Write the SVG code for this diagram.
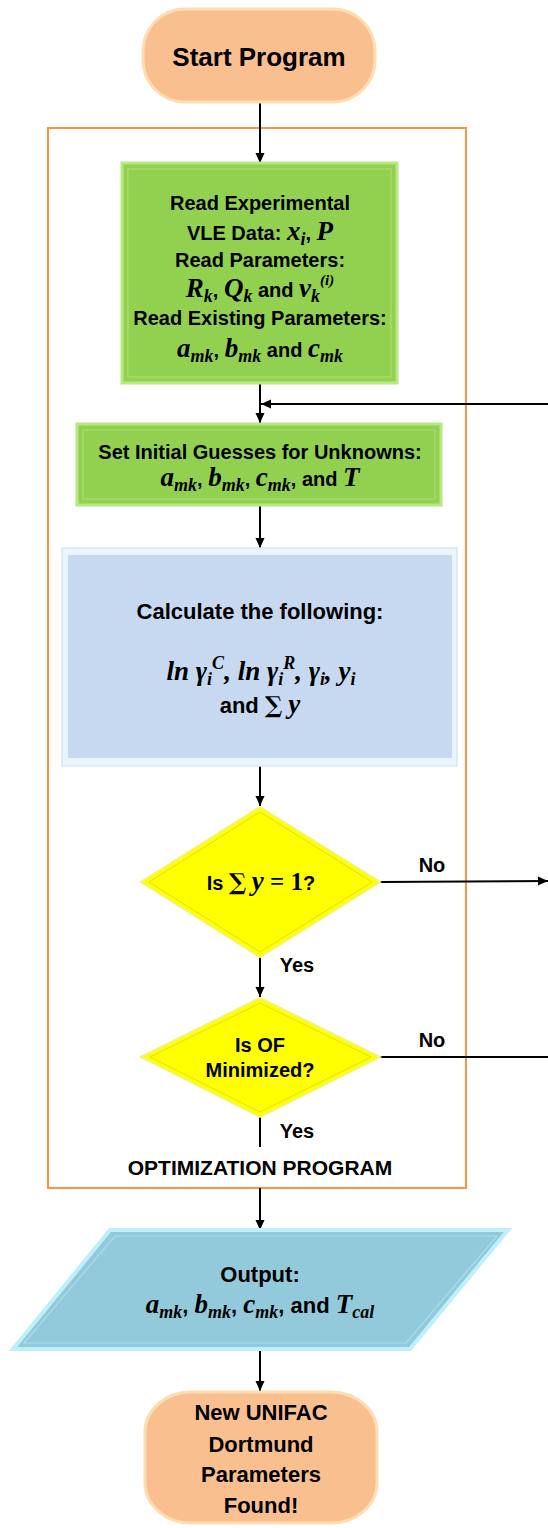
<svg xmlns="http://www.w3.org/2000/svg" width="548" height="1528" viewBox="0 0 548 1528">
<defs>
<marker id="arr" markerUnits="userSpaceOnUse" markerWidth="10" markerHeight="10" refX="10" refY="5" orient="auto">
<path d="M0,0.5 L10,5 L0,9.5 z" fill="#000"/>
</marker>
<style>
.t{font-family:"Liberation Sans",Arial,sans-serif;font-weight:bold;fill:#000;text-anchor:middle}
.f20{font-size:20px}
.f21{font-size:21px}
.f22{font-size:22px}
.f26{font-size:26px}
.mi{font-family:"Liberation Serif","DejaVu Serif",serif;font-style:italic;font-weight:bold;font-size:27px}
.mu{font-family:"Liberation Serif","DejaVu Serif",serif;font-weight:bold;font-size:25px}
.ms{font-family:"Liberation Serif","DejaVu Serif",serif;font-style:italic;font-weight:bold;font-size:18px}
.mss{font-family:"Liberation Serif","DejaVu Serif",serif;font-style:italic;font-weight:bold;font-size:15px}
.sig{font-family:"DejaVu Serif","Liberation Serif",serif;font-size:23px}
.term{fill:#F9BF8F;stroke:#FDDDB3;stroke-width:3}
.green{fill:#92D050;stroke:#B7E884;stroke-width:3}
.greenin{fill:none;stroke:#A9DE72;stroke-width:1.2}
.dia{fill:#FFFF00;stroke:#F4F470;stroke-width:2}
.diain{fill:none;stroke:#D9D900;stroke-width:0.8}
.conn line{stroke:#000;stroke-width:2}
</style>
</defs>

<rect id="container" x="48" y="128" width="418" height="1060" fill="none" stroke="#F79646" stroke-width="2"/>
<text class="t f21" x="260" y="1175">OPTIMIZATION PROGRAM</text>

<g class="conn" id="connectors">
<line x1="260" y1="102" x2="260" y2="163" marker-end="url(#arr)"/>
<line x1="260" y1="383" x2="260" y2="423" marker-end="url(#arr)"/>
<line x1="548" y1="404" x2="261" y2="404" marker-end="url(#arr)"/>
<line x1="260" y1="505" x2="260" y2="548" marker-end="url(#arr)"/>
<line x1="260" y1="766" x2="260" y2="806" marker-end="url(#arr)"/>
<line x1="380" y1="882" x2="548" y2="881" marker-end="url(#arr)"/>
<line x1="260" y1="957" x2="260" y2="997" marker-end="url(#arr)"/>
<line x1="380" y1="1057" x2="548" y2="1057"/>
<line x1="260" y1="1117" x2="260" y2="1147"/>
<line x1="260" y1="1188" x2="260" y2="1230" marker-end="url(#arr)"/>
<line x1="260" y1="1350" x2="260" y2="1391" marker-end="url(#arr)"/>
<text class="t f20" x="432" y="872">No</text>
<text class="t f20" x="297" y="972">Yes</text>
<text class="t f20" x="432" y="1047">No</text>
<text class="t f20" x="297" y="1138">Yes</text>
</g>

<g id="start">
<rect class="term" x="143" y="9" width="232" height="93" rx="42" ry="42"/>
<text class="t f26" x="259" y="66">Start Program</text>
</g>

<g id="read">
<rect class="green" x="122" y="163" width="275" height="220"/>
<rect class="greenin" x="128" y="169" width="263" height="208"/>
<text class="t f20" x="260" y="210">Read Experimental</text>
<text class="t f20" x="260" y="240">VLE Data: <tspan class="mi">x</tspan><tspan class="ms" dy="5">i</tspan><tspan dy="-5">, </tspan><tspan class="mi">P</tspan></text>
<text class="t f20" x="260" y="267">Read Parameters:</text>
<text class="t f20" x="260" y="297"><tspan class="mi">R</tspan><tspan class="ms" dy="5">k</tspan><tspan dy="-5">, </tspan><tspan class="mi">Q</tspan><tspan class="ms" dy="5">k</tspan><tspan dy="-5"> and </tspan><tspan class="mi">v</tspan><tspan class="ms" dy="5">k</tspan><tspan class="mss" dy="-17">(i)</tspan></text>
<text class="t f20" x="260" y="325">Read Existing Parameters:</text>
<text class="t f20" x="260" y="357"><tspan class="mi">a</tspan><tspan class="ms" dy="5">mk</tspan><tspan dy="-5">, </tspan><tspan class="mi">b</tspan><tspan class="ms" dy="5">mk</tspan><tspan dy="-5"> and </tspan><tspan class="mi">c</tspan><tspan class="ms" dy="5">mk</tspan></text>
</g>

<g id="guess">
<rect class="green" x="77" y="424" width="364" height="81"/>
<rect class="greenin" x="83" y="430" width="352" height="69"/>
<text class="t f20" x="260" y="459">Set Initial Guesses for Unknowns:</text>
<text class="t f20" x="260" y="486"><tspan class="mi">a</tspan><tspan class="ms" dy="5">mk</tspan><tspan dy="-5">, </tspan><tspan class="mi">b</tspan><tspan class="ms" dy="5">mk</tspan><tspan dy="-5">, </tspan><tspan class="mi">c</tspan><tspan class="ms" dy="5">mk</tspan><tspan dy="-5">, and </tspan><tspan class="mi">T</tspan></text>
</g>

<g id="calc">
<rect x="62" y="548" width="395" height="218" fill="#EAF4FC" stroke="#D5E8F6" stroke-width="1.5"/>
<rect x="68" y="555" width="384" height="203" fill="#C6D9F0"/>
<text class="t f22" x="260" y="619">Calculate the following:</text>
<text class="t f22" x="261" y="680"><tspan class="mi">ln γ</tspan><tspan class="ms" dy="5">i</tspan><tspan class="ms" dy="-16">C</tspan><tspan class="mi" dy="11">, ln γ</tspan><tspan class="ms" dy="5">i</tspan><tspan class="ms" dy="-16">R</tspan><tspan class="mi" dy="11">, γ</tspan><tspan class="ms" dy="5">i</tspan><tspan class="mi" dy="-5">, y</tspan><tspan class="ms" dy="5">i</tspan></text>
<text class="t f22" x="260" y="713">and <tspan class="sig">∑</tspan> <tspan class="mi">y</tspan></text>
</g>

<g id="check-sum">
<polygon class="dia" points="260,807 380,882 260,957 141,882"/>
<polygon class="diain" points="260,812 372,882 260,952 149,882"/>
<text class="t f20" x="261" y="890">Is <tspan class="sig">∑</tspan> <tspan class="mi">y</tspan><tspan class="mu"> = 1</tspan>?</text>
</g>

<g id="check-of">
<polygon class="dia" points="260,998 380,1057 260,1117 141,1057"/>
<polygon class="diain" points="260,1003 371,1057 260,1112 150,1057"/>
<text class="t f20" x="260" y="1052">Is OF</text>
<text class="t f20" x="260" y="1077">Minimized?</text>
</g>

<g id="output">
<polygon points="110,1230 508,1230 410,1349 13,1349" fill="#92CADB" stroke="#BDF0FA" stroke-width="4"/>
<polygon points="115,1236 497,1236 406,1343 24,1343" fill="none" stroke="#A9DDEA" stroke-width="1.2"/>
<text class="t f22" x="260" y="1282">Output:</text>
<text class="t f22" x="260" y="1313"><tspan class="mi">a</tspan><tspan class="ms" dy="5">mk</tspan><tspan dy="-5">, </tspan><tspan class="mi">b</tspan><tspan class="ms" dy="5">mk</tspan><tspan dy="-5">, </tspan><tspan class="mi">c</tspan><tspan class="ms" dy="5">mk</tspan><tspan dy="-5">, and </tspan><tspan class="mi">T</tspan><tspan class="ms" dy="5">cal</tspan></text>
</g>

<g id="end">
<rect class="term" x="145" y="1392" width="232" height="131" rx="46" ry="40"/>
<text class="t f22" x="261" y="1420">New UNIFAC</text>
<text class="t f22" x="261" y="1452">Dortmund</text>
<text class="t f22" x="261" y="1482">Parameters</text>
<text class="t f22" x="261" y="1513">Found!</text>
</g>
</svg>
